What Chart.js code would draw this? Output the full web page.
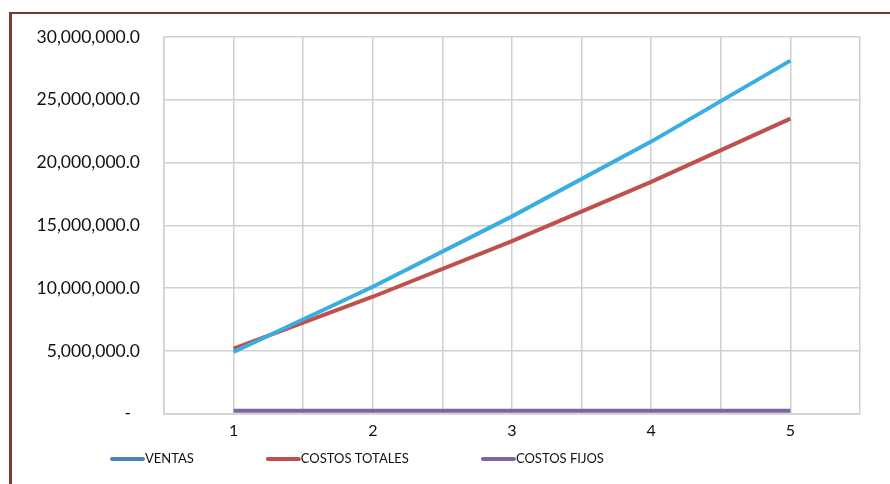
<!DOCTYPE html>
<html>
<head>
<meta charset="utf-8">
<script src="https://cdn.jsdelivr.net/npm/chart.js@4"></script>
<style>
  html, body { margin: 0; padding: 0; background: #fff; overflow: hidden; }
  #wrap { position: relative; width: 890px; height: 484px; }
  #frame {
    position: absolute; left: 9px; top: 12px; width: 900px; height: 500px;
    border-top: 2px solid #7a3b37; border-left: 3px solid #7a3b37;
    pointer-events: none;
  }
</style>
</head>
<body>
<div id="wrap">
  <div id="frame"></div>
  <canvas id="breakEven" width="890" height="484"></canvas>
</div>
<script>
// ---------- Data ----------
const periods = [1, 2, 3, 4, 5];
const ventas = [4920000, 10120000, 15720000, 21670000, 28120000];
const costosTotales = [5180000, 9320000, 13750000, 18470000, 23500000];
const costosFijos = [250000, 250000, 250000, 250000, 250000];
const yTicks = [0, 5000000, 10000000, 15000000, 20000000, 25000000, 30000000];

const FONT = "Lato, 'Open Sans', sans-serif";
const TEXT_COLOR = "#111";

const toPoints = (vals) => periods.map((p, i) => ({ x: p, y: vals[i] }));

// legend drawn like the Excel one: thick line then label, fixed gap between items
const bottomLegend = {
  id: "bottomLegend",
  afterDraw(chart) {
    const ctx = chart.ctx;
    const y = 459;
    let x = 110;
    ctx.save();
    ctx.font = "13px " + FONT;
    ctx.textBaseline = "middle";
    ctx.lineCap = "round";
    chart.data.datasets.forEach((ds) => {
      ctx.strokeStyle = ds.legendColor;
      ctx.lineWidth = 4;
      ctx.beginPath();
      ctx.moveTo(x + 2, y);
      ctx.lineTo(x + 33, y);
      ctx.stroke();
      ctx.fillStyle = TEXT_COLOR;
      ctx.fillText(ds.label, x + 35, y);
      x += 35 + ctx.measureText(ds.label).width + 72;
    });
    ctx.restore();
  },
};

new Chart(document.getElementById("breakEven"), {
  type: "line",
  data: {
    datasets: [
      {
        label: "VENTAS",
        data: toPoints(ventas),
        borderColor: "#3aaee2",
        legendColor: "#4f81bd",
        borderWidth: 4,
      },
      {
        label: "COSTOS TOTALES",
        data: toPoints(costosTotales),
        borderColor: "#c0504d",
        legendColor: "#c0504d",
        borderWidth: 4,
      },
      {
        label: "COSTOS FIJOS",
        data: toPoints(costosFijos),
        borderColor: "#8064a2",
        legendColor: "#8064a2",
        borderWidth: 4,
      },
    ],
  },
  options: {
    responsive: false,
    animation: false,
    events: [],
    layout: {
      padding: { left: 34, right: 30, top: 37, bottom: 37 },
    },
    elements: {
      point: { radius: 0 },
      line: { tension: 0, borderCapStyle: "butt" },
    },
    plugins: {
      legend: { display: false },
      tooltip: { enabled: false },
    },
    scales: {
      x: {
        type: "linear",
        min: 0.5,
        max: 5.5,
        afterBuildTicks: (s) => {
          const t = [];
          for (let v = 0.5; v <= 5.5; v += 0.5) t.push({ value: v });
          s.ticks = t;
        },
        grid: { color: "#d0d0d0", lineWidth: 1.5, drawTicks: false },
        border: { color: "#d0d0d0", width: 1.5 },
        ticks: {
          padding: 7,
          color: TEXT_COLOR,
          font: { family: FONT, size: 16 },
          autoSkip: false,
          maxRotation: 0,
          callback: (v) => (Number.isInteger(v) && periods.includes(v) ? String(v) : ""),
        },
      },
      y: {
        min: 0,
        max: 30000000,
        afterBuildTicks: (s) => {
          s.ticks = yTicks.map((v) => ({ value: v }));
        },
        afterFit: (s) => {
          s.width = 130;
        },
        grid: { color: "#d0d0d0", lineWidth: 1.5, drawTicks: false },
        border: { color: "#d0d0d0", width: 1.5 },
        ticks: {
          padding: 24,
          color: TEXT_COLOR,
          font: { family: FONT, size: 17.5 },
          callback: (v) =>
            v === 0
              ? "-  "
              : v.toLocaleString("en-US", { minimumFractionDigits: 1, maximumFractionDigits: 1 }),
        },
      },
    },
  },
  plugins: [bottomLegend],
});
</script>
</body>
</html>
